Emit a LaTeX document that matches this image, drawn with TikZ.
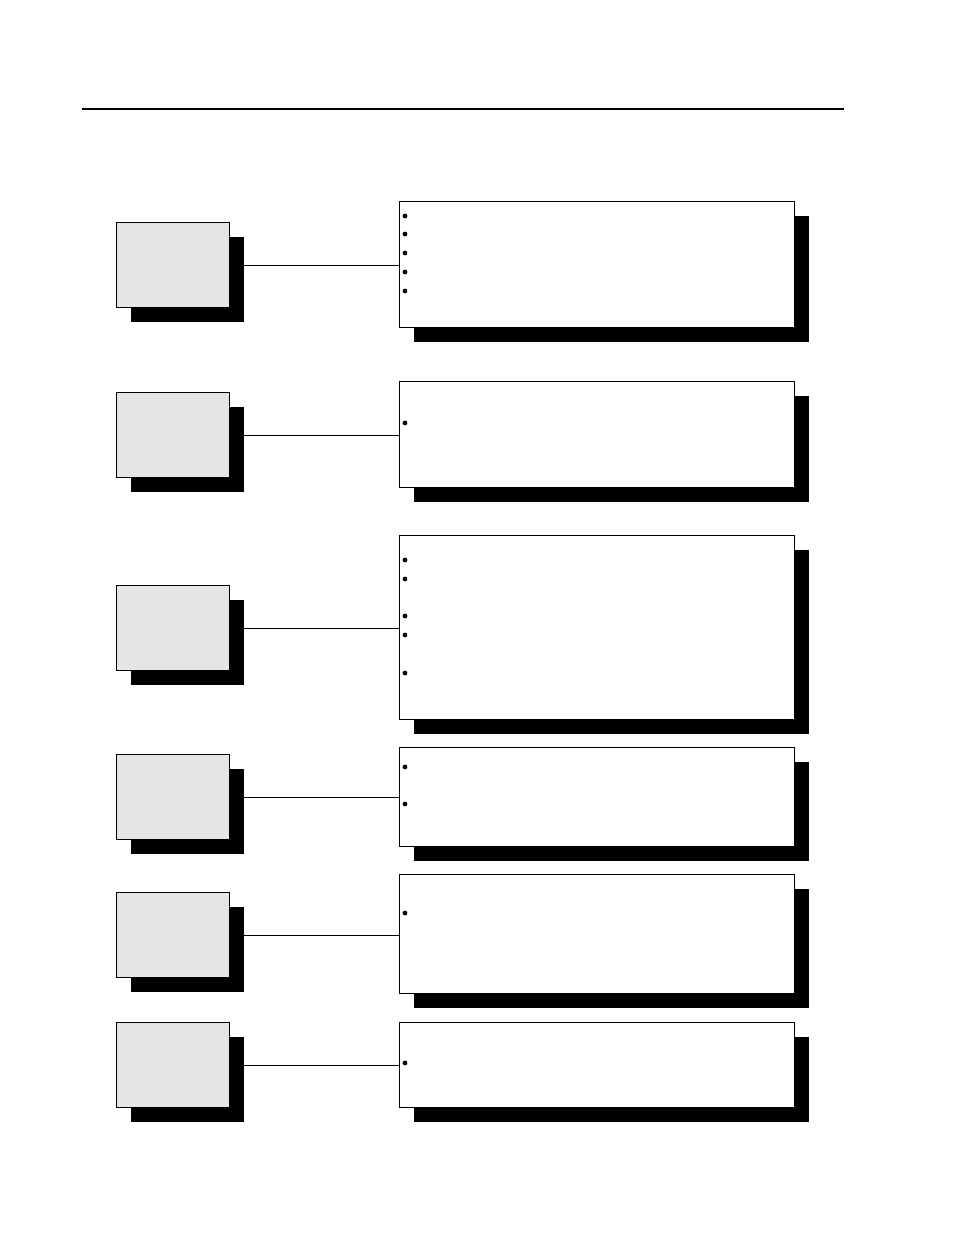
\documentclass[tikz,border=0pt]{standalone}
\usetikzlibrary{shadows,backgrounds}

\newdimen\px
\px=0.75pt

\tikzset{
  shade box/.style={draw, line width=0.75pt, inner sep=0pt, anchor=north west,
    drop shadow={shadow xshift=14*\px, shadow yshift=-14*\px, fill=black, opacity=1}},
  stagebox/.style={shade box, fill=black!10, minimum width=113*\px, minimum height=85*\px},
  notebox/.style={shade box, fill=white, minimum width=395*\px},
  link/.style={line width=0.75pt}
}

\begin{document}
\begin{tikzpicture}[x=0.75pt,y=-0.75pt]

\useasboundingbox (0,0) rectangle (954,1235);

% top rule
\draw[line width=1.5pt] (82,109) -- (844,109);

% left boxes
\node[stagebox] (s1) at (116,222) {};
\node[stagebox] (s2) at (116,392) {};
\node[stagebox] (s3) at (116,585) {};
\node[stagebox] (s4) at (116,754) {};
\node[stagebox] (s5) at (116,892) {};
\node[stagebox] (s6) at (116,1022) {};

% right boxes
\node[notebox, minimum height=126*\px] (n1) at (399,201) {};
\node[notebox, minimum height=106*\px] (n2) at (399,381) {};
\node[notebox, minimum height=184*\px] (n3) at (399,535) {};
\node[notebox, minimum height=99*\px]  (n4) at (399,747) {};
\node[notebox, minimum height=119*\px] (n5) at (399,874) {};
\node[notebox, minimum height=85*\px]  (n6) at (399,1022) {};

% connectors
\begin{scope}[on background layer]
\foreach \i in {1,...,6}
  \draw[link] (s\i.east) -- (s\i.east -| n\i.west);
\end{scope}

% bullets
\foreach \y in {216,234,253,272,291,423,560,579,616,635,673,767,804,913,1063}
  \fill (405,\y) circle[radius=1.8pt];

\end{tikzpicture}
\end{document}
